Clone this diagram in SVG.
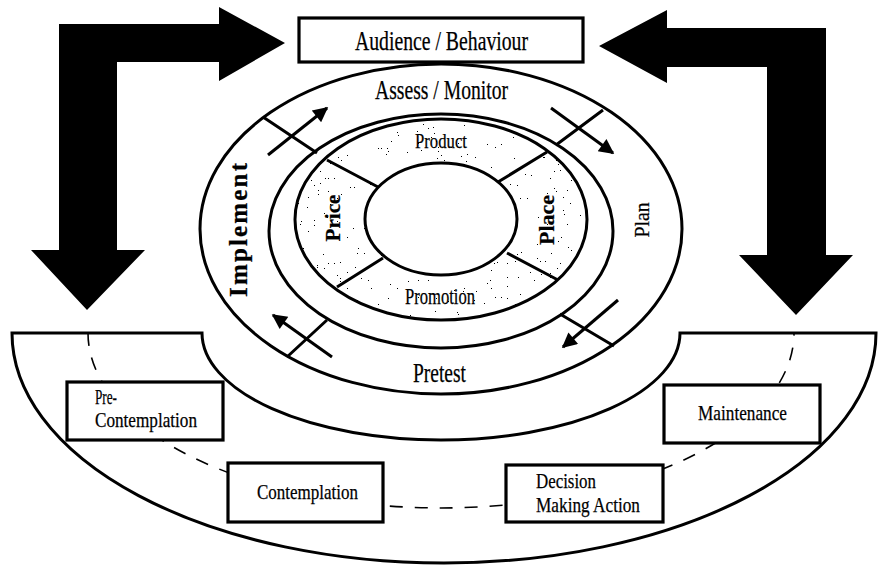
<svg xmlns="http://www.w3.org/2000/svg" width="882" height="568" viewBox="0 0 882 568">
  <style>
    .line { fill: none; stroke: #000; stroke-width: 3; }
    .ring { fill: #fff; stroke: #000; stroke-width: 3; }
    .box { fill: #fff; stroke: #000; stroke-width: 3.2; }
    .txt { font-family: "Liberation Serif", "Times New Roman", serif; fill: #000; stroke: #000; stroke-width: 0.25; }
    .bold { font-weight: bold; }
    .dash { fill: none; stroke: #000; stroke-width: 1.6; stroke-dasharray: 13 12; }
    .flow { fill: none; stroke: #000; stroke-width: 3; marker-end: url(#head); }
  </style>
  <defs>
    <marker id="head" viewBox="0 0 10 10" refX="9" refY="5" markerWidth="17" markerHeight="15" markerUnits="userSpaceOnUse" orient="auto">
      <path d="M0,0 L10,5 L0,10 Z" fill="#000"/>
    </marker>
    <!-- sparse stipple for the marketing-mix ring -->
    <filter id="grain" x="0" y="0" width="100%" height="100%">
      <feTurbulence type="fractalNoise" baseFrequency="0.7" numOctaves="2" seed="7" result="noise"/>
      <feColorMatrix in="noise" type="matrix" values="0 0 0 0 0  0 0 0 0 0  0 0 0 0 0  4 0 0 0 -2.2" result="dots"/>
      <feComponentTransfer in="dots" result="hard">
        <feFuncA type="discrete" tableValues="0 0 0 0 0 0 0 0 1"/>
      </feComponentTransfer>
      <feComposite in="hard" in2="SourceAlpha" operator="in"/>
    </filter>
  </defs>

  <!-- stages of change panel -->
  <g id="stages-panel">
    <path class="line" stroke-width="2.6" d="M12,333 L202,333 A239,107 0 0 0 680,333 L876,333 A432,230 0 0 1 12,333 Z"/>
  </g>

  <g id="connectors">
    <!-- dashed path through the stages -->
    <path class="dash" d="M88,333 A353,175 0 0 0 794,333"/>
    <!-- large feedback arrows -->
    <path d="M59,250 L31,250 L87,310 L145,250 L117,250 L117,62 L219,62 L219,81 L285,43 L219,7 L219,24 L59,24 Z" fill="#000"/>
    <path d="M826,255 L853,255 L796,315 L739,255 L767,255 L767,67 L667,67 L667,83 L599,46 L667,10 L667,28 L826,28 Z" fill="#000"/>
  </g>

  <g id="audience">
    <rect class="box" x="299" y="18" width="284" height="44"/>
    <text class="txt" x="355" y="50" font-size="27" textLength="173" lengthAdjust="spacingAndGlyphs">Audience / Behaviour</text>
  </g>

  <!-- planning cycle -->
  <g id="cycle">
    <ellipse class="ring" cx="441" cy="229" rx="241" ry="165"/>
    <ellipse class="ring" cx="441" cy="231" rx="172" ry="117"/>
    <ellipse class="ring" cx="441" cy="219.5" rx="146" ry="100.5"/>
    <path d="M295,219.5 A146,100.5 0 1 0 587,219.5 A146,100.5 0 1 0 295,219.5 Z M365,219 A76,56 0 1 0 517,219 A76,56 0 1 0 365,219 Z" fill="#000" fill-rule="evenodd" filter="url(#grain)"/>
    <ellipse class="ring" cx="441" cy="219" rx="76" ry="56"/>
    <!-- ring dividers -->
    <path class="line" d="M263,117 L317,153 M603,110 L556,145 M560,314 L614,346 M287,357 L327,320"/>
    <path class="line" d="M327,160 L378,187 M498,182 L547,152 M383,258 L337,287 M507,253 L558,280"/>
    <text class="txt" x="375" y="99" font-size="27" textLength="133" lengthAdjust="spacingAndGlyphs">Assess / Monitor</text>
    <text class="txt" x="413" y="382" font-size="28" textLength="53" lengthAdjust="spacingAndGlyphs">Pretest</text>
    <text class="txt bold" font-size="25" text-anchor="middle" transform="translate(247,230) rotate(-90)" textLength="134" lengthAdjust="spacing">Implement</text>
    <text class="txt" font-size="21" text-anchor="middle" transform="translate(649,220) rotate(-90)" textLength="35" lengthAdjust="spacingAndGlyphs">Plan</text>
  </g>

  <g id="mix">
    <text class="txt" x="415" y="148" font-size="21" textLength="52" lengthAdjust="spacingAndGlyphs">Product</text>
    <text class="txt" x="405" y="304" font-size="23" textLength="70" lengthAdjust="spacingAndGlyphs">Promotion</text>
    <text class="txt bold" font-size="21" text-anchor="middle" transform="translate(340,218) rotate(-90)" textLength="47" lengthAdjust="spacingAndGlyphs">Price</text>
    <text class="txt bold" font-size="21" text-anchor="middle" transform="translate(554,220) rotate(-90)" textLength="50" lengthAdjust="spacingAndGlyphs">Place</text>
  </g>

  <g id="cycle-arrows">
    <path class="flow" d="M268,155 L327,108"/>
    <path class="flow" d="M551,108 L613,153"/>
    <path class="flow" d="M618,300 L563,347"/>
    <path class="flow" d="M332,357 L273,315"/>
  </g>

  <g id="pre-contemplation">
    <rect class="box" x="67" y="382" width="156" height="58"/>
    <text class="txt" x="95" y="404" font-size="21" textLength="22" lengthAdjust="spacingAndGlyphs">Pre-</text>
    <text class="txt" x="95" y="427" font-size="21" textLength="102" lengthAdjust="spacingAndGlyphs">Contemplation</text>
  </g>
  <g id="contemplation">
    <rect class="box" x="228" y="463" width="155" height="59"/>
    <text class="txt" x="257" y="499" font-size="22" textLength="101" lengthAdjust="spacingAndGlyphs">Contemplation</text>
  </g>
  <g id="decision">
    <rect class="box" x="506" y="465" width="157" height="57"/>
    <text class="txt" x="536" y="488" font-size="22" textLength="60" lengthAdjust="spacingAndGlyphs">Decision</text>
    <text class="txt" x="536" y="512" font-size="22" textLength="104" lengthAdjust="spacingAndGlyphs">Making Action</text>
  </g>
  <g id="maintenance">
    <rect class="box" x="664" y="385" width="156" height="58"/>
    <text class="txt" x="698" y="420" font-size="22" textLength="89" lengthAdjust="spacingAndGlyphs">Maintenance</text>
  </g>
</svg>
